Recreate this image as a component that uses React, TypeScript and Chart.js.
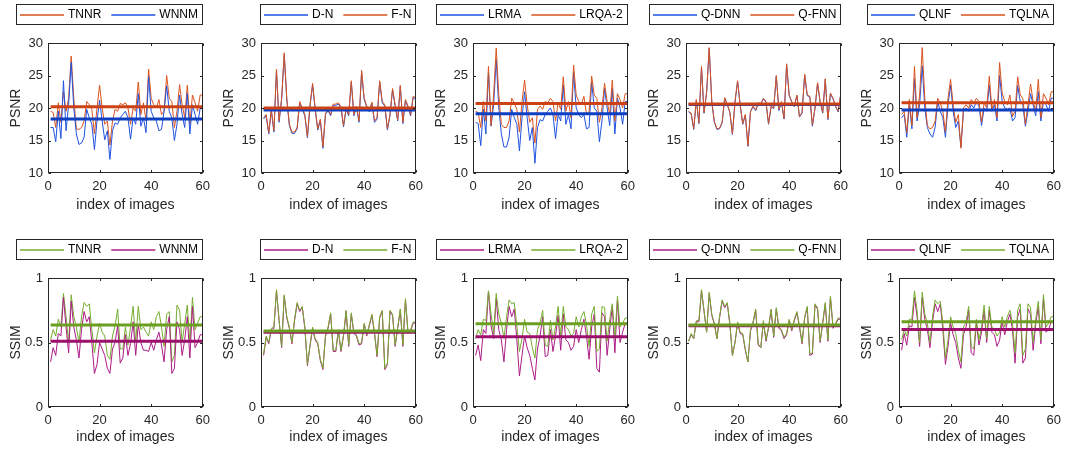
import React, { useEffect, useRef } from "react";
import { Chart, registerables } from "chart.js";

Chart.register(...registerables);

// ---------- data ----------
const imageIndex: number[] = Array.from({ length: 60 }, (_, i) => i + 1);
const xTickValues = [0, 20, 40, 60];
const psnrRange = [10, 30];
const ssimRange = [0, 1];

// PSNR series
const psnrTNNR = [19.5,19.3,17.0,20.8,17.8,22.5,19.5,21.5,28.0,21.5,16.8,16.7,17.0,18.0,21.0,20.5,19.8,16.0,20.0,23.5,20.0,17.5,18.0,14.3,18.0,19.8,19.5,20.7,20.5,20.8,20.0,17.5,20.0,19.5,24.0,19.0,20.8,18.0,26.0,21.5,20.5,20.0,21.3,19.0,19.5,25.0,21.5,21.0,17.0,19.5,23.6,20.5,18.5,23.5,17.5,22.0,20.8,19.5,22.0,22.0];
const psnrWNNM = [17.0,17.0,14.8,19.5,15.3,24.2,16.5,20.5,27.0,20.0,16.0,14.4,14.6,15.5,19.8,18.5,17.5,13.6,18.0,21.2,18.0,15.1,16.5,12.1,16.5,17.7,17.5,18.5,19.0,19.5,18.5,15.2,18.5,17.5,22.2,17.2,18.5,16.2,24.8,19.5,18.5,18.0,16.5,16.7,19.5,23.4,19.5,18.5,15.0,17.5,22.0,19.0,17.0,22.2,16.0,20.5,19.0,17.5,20.0,20.0];
const psnrDN = [18.3,18.8,16.0,19.6,16.3,25.7,17.8,21.3,28.2,21.3,17.3,16.1,16.1,16.8,20.8,19.8,18.8,15.4,20.3,23.5,19.8,16.6,18.1,13.8,19.0,19.6,18.8,20.4,20.4,20.6,20.0,17.1,19.8,18.8,24.0,18.8,20.1,17.8,25.5,21.3,20.1,19.4,20.7,17.8,18.3,24.0,20.8,20.3,16.6,18.8,22.8,20.3,18.0,23.3,17.6,21.1,20.1,18.8,21.6,21.4];
const psnrFN = [18.5,19.0,16.2,19.8,16.5,26.0,18.0,21.5,28.5,21.5,17.5,16.3,16.3,17.0,21.0,20.0,19.0,15.6,20.5,23.8,20.0,16.8,18.3,14.0,19.2,19.8,19.0,20.6,20.6,20.8,20.2,17.3,20.0,19.0,24.2,19.0,20.3,18.0,25.8,21.5,20.3,19.6,20.9,18.0,18.5,24.2,21.0,20.5,16.8,19.0,23.0,20.5,18.2,23.5,17.8,21.3,20.3,19.0,21.8,21.6];
const psnrLRMA = [17.8,17.6,14.2,19.8,16.0,25.5,17.2,20.5,27.5,20.0,16.0,14.0,14.0,15.5,19.8,18.5,17.5,13.4,18.5,22.5,18.5,15.0,17.0,11.5,17.0,18.2,18.0,19.0,19.5,20.0,19.0,15.3,19.0,18.0,23.5,17.5,19.0,16.8,25.5,20.0,19.0,18.5,19.0,16.8,17.0,24.0,20.0,19.5,14.8,18.0,23.0,20.0,17.3,23.0,16.0,21.5,20.0,17.5,21.0,21.0];
const psnrLRQA2 = [19.5,19.3,17.0,21.0,18.0,26.4,17.3,22.0,29.2,22.0,17.5,17.0,17.0,18.0,21.5,20.8,19.8,16.3,21.0,24.3,20.5,17.8,18.5,14.6,19.8,20.3,19.8,21.0,20.8,21.5,21.0,18.0,20.8,19.8,24.8,19.5,21.0,18.5,26.6,22.0,21.0,20.5,21.8,19.0,19.5,24.9,22.0,21.5,17.8,20.0,23.8,21.0,19.0,24.3,18.0,22.2,21.3,20.0,22.2,22.2];
const psnrQDNN = [19.4,19.1,16.7,21.2,17.6,26.3,19.2,22.4,29.2,20.9,17.8,16.7,16.8,17.7,21.5,20.5,19.3,15.9,20.9,24.1,20.4,17.5,18.9,14.1,19.4,20.2,19.6,20.7,20.6,21.4,20.9,17.5,20.2,19.9,24.9,19.6,20.9,18.3,26.7,21.9,20.9,20.2,21.9,18.6,19.2,25.1,21.9,21.7,17.2,19.9,23.8,20.9,19.2,24.4,18.2,22.2,21.4,20.2,19.4,22.1];
const psnrQFNN = [19.5,19.2,16.8,21.3,17.7,26.4,19.3,22.5,29.3,21.0,17.9,16.8,16.9,17.8,21.6,20.6,19.4,16.0,21.0,24.2,20.5,17.6,19.0,14.2,19.5,20.3,19.7,20.8,20.7,21.5,21.0,17.6,20.3,20.0,25.0,19.8,21.0,18.4,26.8,22.0,21.0,20.3,22.0,18.7,19.3,25.2,22.0,21.8,17.4,20.0,23.9,21.0,19.3,24.5,18.3,22.3,21.5,20.3,19.5,22.2];
const psnrQLNF = [18.5,19.0,15.5,20.5,16.8,24.5,18.0,20.5,26.5,20.0,17.0,16.0,15.5,17.0,21.0,19.5,18.5,15.5,20.5,23.5,19.5,17.0,18.0,14.0,19.5,20.0,19.5,20.5,20.0,21.0,20.3,17.3,20.0,19.5,23.5,19.5,20.5,18.0,25.0,21.0,20.0,19.8,20.0,18.0,18.5,23.5,21.0,20.5,17.2,19.5,22.2,20.5,18.8,22.5,18.0,21.0,20.5,19.5,21.5,21.5];
const psnrTQLNA = [19.0,19.5,16.2,21.3,17.3,26.4,18.5,22.0,29.3,21.5,17.3,16.8,17.0,18.0,21.5,20.8,19.5,16.3,21.5,24.4,20.5,17.8,19.0,13.8,20.0,20.5,20.0,21.3,20.8,21.5,21.0,17.8,20.8,20.0,24.9,19.8,21.3,18.5,27.0,22.3,21.0,20.5,22.0,18.7,19.5,24.8,22.0,21.5,17.5,20.5,23.7,21.0,19.5,24.4,18.5,22.2,21.5,20.5,22.5,22.5];

// PSNR means
const psnrMeanTNNR = 20.2, psnrMeanWNNM = 18.3;
const psnrMeanDN = 19.7, psnrMeanFN = 20.0;
const psnrMeanLRMA = 19.1, psnrMeanLRQA2 = 20.7;
const psnrMeanQDNN = 20.55, psnrMeanQFNN = 20.6;
const psnrMeanQLNF = 19.7, psnrMeanTQLNA = 20.8;

// SSIM series
const ssimTNNR = [0.52,0.60,0.55,0.68,0.62,0.88,0.70,0.50,0.87,0.70,0.62,0.50,0.70,0.81,0.78,0.80,0.60,0.42,0.55,0.65,0.58,0.55,0.40,0.37,0.55,0.63,0.76,0.45,0.45,0.62,0.48,0.62,0.78,0.50,0.78,0.60,0.62,0.58,0.55,0.66,0.60,0.70,0.74,0.62,0.47,0.72,0.74,0.35,0.40,0.79,0.75,0.50,0.65,0.79,0.50,0.85,0.60,0.65,0.70,0.70];
const ssimWNNM = [0.35,0.46,0.40,0.57,0.55,0.85,0.62,0.42,0.82,0.62,0.52,0.38,0.60,0.74,0.66,0.70,0.50,0.26,0.33,0.50,0.45,0.40,0.30,0.26,0.45,0.50,0.63,0.34,0.38,0.56,0.40,0.49,0.66,0.40,0.64,0.50,0.44,0.44,0.43,0.50,0.44,0.52,0.58,0.48,0.35,0.60,0.70,0.26,0.30,0.66,0.60,0.40,0.52,0.70,0.38,0.78,0.46,0.50,0.56,0.56];
const ssimDN = [0.40,0.54,0.49,0.60,0.61,0.90,0.67,0.46,0.86,0.69,0.61,0.49,0.67,0.80,0.74,0.77,0.61,0.32,0.47,0.61,0.52,0.49,0.36,0.29,0.55,0.61,0.72,0.43,0.43,0.59,0.43,0.55,0.74,0.47,0.72,0.57,0.55,0.48,0.49,0.64,0.55,0.63,0.71,0.57,0.39,0.69,0.74,0.29,0.33,0.74,0.71,0.47,0.61,0.75,0.47,0.83,0.57,0.59,0.65,0.65];
const ssimFN = [0.41,0.55,0.50,0.61,0.62,0.91,0.68,0.47,0.87,0.70,0.62,0.50,0.68,0.81,0.75,0.78,0.62,0.33,0.48,0.62,0.53,0.50,0.37,0.30,0.56,0.62,0.73,0.44,0.44,0.60,0.44,0.56,0.75,0.48,0.73,0.58,0.56,0.49,0.50,0.65,0.56,0.64,0.72,0.58,0.40,0.70,0.75,0.30,0.34,0.75,0.72,0.48,0.62,0.76,0.48,0.84,0.58,0.60,0.66,0.66];
const ssimLRMA = [0.40,0.48,0.36,0.60,0.57,0.90,0.63,0.53,0.84,0.60,0.52,0.35,0.60,0.78,0.70,0.76,0.52,0.24,0.40,0.55,0.46,0.40,0.30,0.21,0.45,0.55,0.70,0.39,0.40,0.60,0.43,0.55,0.71,0.44,0.72,0.52,0.50,0.44,0.47,0.60,0.50,0.60,0.68,0.55,0.37,0.62,0.72,0.30,0.27,0.73,0.70,0.40,0.60,0.78,0.42,0.83,0.50,0.58,0.65,0.65];
const ssimLRQA2 = [0.53,0.60,0.56,0.68,0.67,0.90,0.72,0.57,0.88,0.72,0.65,0.53,0.70,0.83,0.80,0.81,0.63,0.43,0.53,0.68,0.58,0.57,0.46,0.38,0.60,0.65,0.75,0.48,0.47,0.67,0.52,0.62,0.78,0.55,0.78,0.62,0.60,0.55,0.57,0.70,0.62,0.70,0.74,0.64,0.47,0.72,0.78,0.43,0.45,0.78,0.77,0.51,0.68,0.80,0.53,0.86,0.62,0.65,0.69,0.69];
const ssimQDNN = [0.51,0.56,0.53,0.66,0.66,0.90,0.74,0.58,0.88,0.71,0.64,0.53,0.69,0.82,0.77,0.80,0.64,0.40,0.50,0.65,0.57,0.56,0.44,0.35,0.59,0.65,0.75,0.48,0.46,0.66,0.51,0.61,0.75,0.54,0.76,0.61,0.59,0.53,0.56,0.67,0.59,0.67,0.73,0.62,0.49,0.69,0.77,0.40,0.41,0.79,0.76,0.50,0.65,0.80,0.51,0.85,0.61,0.64,0.68,0.68];
const ssimQFNN = [0.51,0.57,0.53,0.67,0.67,0.91,0.75,0.58,0.89,0.72,0.65,0.53,0.70,0.83,0.78,0.81,0.65,0.40,0.50,0.66,0.58,0.57,0.45,0.35,0.60,0.66,0.76,0.49,0.46,0.67,0.52,0.62,0.76,0.55,0.77,0.62,0.60,0.54,0.57,0.68,0.60,0.68,0.74,0.63,0.50,0.70,0.78,0.41,0.42,0.80,0.77,0.51,0.66,0.81,0.52,0.86,0.62,0.65,0.69,0.69];
const ssimQLNF = [0.44,0.57,0.48,0.63,0.62,0.85,0.70,0.47,0.85,0.68,0.60,0.46,0.66,0.80,0.74,0.80,0.60,0.33,0.47,0.65,0.56,0.50,0.38,0.30,0.56,0.62,0.75,0.42,0.40,0.65,0.48,0.58,0.75,0.50,0.75,0.58,0.56,0.47,0.52,0.66,0.56,0.66,0.72,0.60,0.34,0.70,0.76,0.34,0.38,0.76,0.72,0.44,0.64,0.78,0.49,0.84,0.58,0.60,0.66,0.66];
const ssimTQLNA = [0.52,0.60,0.55,0.68,0.68,0.90,0.75,0.50,0.89,0.72,0.65,0.50,0.70,0.83,0.80,0.82,0.65,0.38,0.52,0.70,0.62,0.57,0.44,0.35,0.62,0.66,0.78,0.47,0.45,0.68,0.52,0.62,0.79,0.53,0.78,0.62,0.60,0.55,0.58,0.70,0.62,0.70,0.75,0.65,0.42,0.75,0.80,0.40,0.45,0.80,0.77,0.50,0.68,0.82,0.52,0.87,0.62,0.65,0.70,0.70];

// SSIM means
const ssimMeanTNNR = 0.635, ssimMeanWNNM = 0.51;
const ssimMeanDN = 0.58, ssimMeanFN = 0.59;
const ssimMeanLRMA = 0.545, ssimMeanLRQA2 = 0.645;
const ssimMeanQDNN = 0.63, ssimMeanQFNN = 0.635;
const ssimMeanQLNF = 0.60, ssimMeanTQLNA = 0.66;

// ---------- styles ----------
const RED = "#D9531E", RED_M = "#CC4214";
const BLUE = "#1F52E0", BLUE_M = "#0D3FC2";
const GREEN = "#77AC30", GREEN_M = "#6C9E22";
const MAG = "#AC1C86", MAG_M = "#9C0F6C";
const FONT = '"Liberation Sans", Arial, Helvetica, sans-serif';
const AX = "#262626";

type Series = { label: string; values: number[]; mean: number; color: string; meanColor: string };
type PanelSpec = { metric: "PSNR" | "SSIM"; row: number; col: number; first: Series; second: Series };

const s = (label: string, values: number[], mean: number, color: string, meanColor: string): Series => ({ label, values, mean, color, meanColor });

const panels: PanelSpec[] = [
  { metric: "PSNR", row: 0, col: 0, first: s("TNNR", psnrTNNR, psnrMeanTNNR, RED, RED_M), second: s("WNNM", psnrWNNM, psnrMeanWNNM, BLUE, BLUE_M) },
  { metric: "PSNR", row: 0, col: 1, first: s("D-N", psnrDN, psnrMeanDN, BLUE, BLUE_M), second: s("F-N", psnrFN, psnrMeanFN, RED, RED_M) },
  { metric: "PSNR", row: 0, col: 2, first: s("LRMA", psnrLRMA, psnrMeanLRMA, BLUE, BLUE_M), second: s("LRQA-2", psnrLRQA2, psnrMeanLRQA2, RED, RED_M) },
  { metric: "PSNR", row: 0, col: 3, first: s("Q-DNN", psnrQDNN, psnrMeanQDNN, BLUE, BLUE_M), second: s("Q-FNN", psnrQFNN, psnrMeanQFNN, RED, RED_M) },
  { metric: "PSNR", row: 0, col: 4, first: s("QLNF", psnrQLNF, psnrMeanQLNF, BLUE, BLUE_M), second: s("TQLNA", psnrTQLNA, psnrMeanTQLNA, RED, RED_M) },
  { metric: "SSIM", row: 1, col: 0, first: s("TNNR", ssimTNNR, ssimMeanTNNR, GREEN, GREEN_M), second: s("WNNM", ssimWNNM, ssimMeanWNNM, MAG, MAG_M) },
  { metric: "SSIM", row: 1, col: 1, first: s("D-N", ssimDN, ssimMeanDN, MAG, MAG_M), second: s("F-N", ssimFN, ssimMeanFN, GREEN, GREEN_M) },
  { metric: "SSIM", row: 1, col: 2, first: s("LRMA", ssimLRMA, ssimMeanLRMA, MAG, MAG_M), second: s("LRQA-2", ssimLRQA2, ssimMeanLRQA2, GREEN, GREEN_M) },
  { metric: "SSIM", row: 1, col: 3, first: s("Q-DNN", ssimQDNN, ssimMeanQDNN, MAG, MAG_M), second: s("Q-FNN", ssimQFNN, ssimMeanQFNN, GREEN, GREEN_M) },
  { metric: "SSIM", row: 1, col: 4, first: s("QLNF", ssimQLNF, ssimMeanQLNF, MAG, MAG_M), second: s("TQLNA", ssimTQLNA, ssimMeanTQLNA, GREEN, GREEN_M) },
];

// ---------- layout ----------
const CANVAS_LEFT = [0, 213, 425, 638, 851];
const CANVAS_TOP = [0, 235];
const CANVAS_W = 216;
const CANVAS_H = 218;
const PAD_TOP = 43;
const XAXIS_H = [45, 46];
const XTITLE_PB = [4, 7];

// ---------- plugins ----------
const framePlugin = {
  id: "frameBox",
  afterDatasetsDraw(chart: any) {
    const { ctx, chartArea } = chart;
    const xs = chart.scales.x, ys = chart.scales.y;
    const l = Math.round(chartArea.left) + 0.5;
    const r = Math.round(chartArea.right) - 0.5;
    const t = Math.round(chartArea.top) + 0.5;
    const b = Math.round(chartArea.bottom) - 0.5;
    ctx.save();
    ctx.strokeStyle = AX;
    ctx.lineWidth = 1;
    ctx.strokeRect(l, t, r - l, b - t);
    const tl = 2.5;
    ctx.beginPath();
    xs.ticks.forEach((tk: any) => {
      const px = Math.round(xs.getPixelForValue(tk.value)) + 0.5;
      ctx.moveTo(px, b); ctx.lineTo(px, b - tl);
      ctx.moveTo(px, t); ctx.lineTo(px, t + tl);
    });
    ys.ticks.forEach((tk: any) => {
      const py = Math.round(ys.getPixelForValue(tk.value)) + 0.5;
      ctx.moveTo(l, py); ctx.lineTo(l + tl, py);
      ctx.moveTo(r, py); ctx.lineTo(r - tl, py);
    });
    ctx.stroke();
    ctx.restore();
  },
};

const boxLegendPlugin = {
  id: "boxLegend",
  afterDraw(chart: any, _args: any, opts: any) {
    const { ctx, chartArea } = chart;
    const items: { label: string; color: string }[] = (opts.indices || []).map((i: number) => {
      const d = chart.data.datasets[i];
      return { label: String(d.label), color: String(d.legendColor || d.borderColor) };
    });
    if (!items.length) return;
    ctx.save();
    ctx.font = `12px ${FONT}`;
    const lineLen = 44, gap = 4, itemGap = 10, padL = 4, padR = 5, h = 20;
    const widths = items.map((d) => ctx.measureText(d.label).width);
    let total = padL + padR + itemGap * (items.length - 1);
    items.forEach((_d, k) => { total += lineLen + gap + widths[k]; });
    total = Math.round(total);
    const right = Math.round(chartArea.right);
    const left = right - total;
    const top = Math.round(chartArea.top + opts.dy);
    ctx.fillStyle = "#ffffff";
    ctx.fillRect(left, top, total, h);
    ctx.strokeStyle = AX;
    ctx.lineWidth = 1;
    ctx.strokeRect(left + 0.5, top + 0.5, total - 1, h);
    let x = left + padL;
    const cy = top + h / 2 + 0.5;
    items.forEach((d, k) => {
      ctx.save();
      ctx.strokeStyle = d.color;
      ctx.lineWidth = 1.3;
      ctx.beginPath();
      ctx.moveTo(x, Math.round(cy));
      ctx.lineTo(x + lineLen, Math.round(cy));
      ctx.stroke();
      ctx.restore();
      x += lineLen + gap;
      ctx.fillStyle = "#000000";
      ctx.textBaseline = "middle";
      ctx.textAlign = "left";
      ctx.fillText(d.label, x, cy);
      x += widths[k] + itemGap;
    });
    ctx.restore();
  },
};

function Panel({ spec }: { spec: PanelSpec }) {
  const ref = useRef<HTMLCanvasElement | null>(null);
  useEffect(() => {
    if (!ref.current) return;
    const isP = spec.metric === "PSNR";
    const range = isP ? psnrRange : ssimRange;
    const pts = (vals: number[]) => imageIndex.map((x, i) => ({ x, y: vals[i] }));
    const meanPts = (m: number) => [
      { x: imageIndex[0], y: m },
      { x: imageIndex[imageIndex.length - 1], y: m },
    ];
    const thin = (ser: Series) => ({
      label: ser.label,
      legendColor: ser.color,
      data: pts(ser.values),
      borderColor: ser.color,
      backgroundColor: ser.color,
      borderWidth: 1,
      pointRadius: 0,
      tension: 0,
      fill: false,
    });
    const mean = (ser: Series) => ({
      label: ser.label + " mean",
      data: meanPts(ser.mean),
      borderColor: ser.meanColor,
      backgroundColor: ser.meanColor,
      borderWidth: 3,
      pointRadius: 0,
      tension: 0,
      fill: false,
    });
    // dataset 0 is drawn on top in Chart.js
    const datasets = [mean(spec.second), mean(spec.first), thin(spec.second), thin(spec.first)];
    const row = spec.row;
    const chart = new Chart(ref.current, {
      type: "line",
      data: { datasets },
      options: {
        animation: false,
        responsive: false,
        devicePixelRatio: 1,
        events: [],
        layout: { padding: { left: 0, right: 8, top: PAD_TOP, bottom: 0 } },
        plugins: {
          legend: { display: false },
          tooltip: { enabled: false },
          boxLegend: { indices: [3, 2], dy: -39 },
        } as any,
        scales: {
          x: {
            type: "linear",
            min: xTickValues[0],
            max: xTickValues[xTickValues.length - 1],
            afterBuildTicks: (sc: any) => { sc.ticks = xTickValues.map((v) => ({ value: v })); },
            grid: { display: false, drawTicks: false },
            border: { display: false },
            ticks: { color: AX, font: { family: FONT, size: 13 }, padding: 6, maxRotation: 0 },
            title: {
              display: true,
              text: "index of images",
              color: AX,
              font: { family: FONT, size: 14 },
              padding: { top: 0, bottom: XTITLE_PB[row] },
            },
            afterFit: (sc: any) => { sc.height = XAXIS_H[row]; },
          },
          y: {
            type: "linear",
            min: range[0],
            max: range[1],
            ticks: {
              color: AX,
              font: { family: FONT, size: 13 },
              padding: 5,
              stepSize: isP ? 5 : 0.5,
              callback: (v: any) => String(v),
            },
            grid: { display: false, drawTicks: false },
            border: { display: false },
            title: {
              display: true,
              text: spec.metric,
              color: AX,
              font: { family: FONT, size: 14 },
              padding: { top: 8, bottom: 0 },
            },
            afterFit: (sc: any) => { sc.width = 48; },
          },
        },
      } as any,
      plugins: [framePlugin, boxLegendPlugin],
    });
    return () => chart.destroy();
  }, [spec]);
  return (
    <canvas
      ref={ref}
      width={CANVAS_W}
      height={CANVAS_H}
      style={{
        position: "absolute",
        left: CANVAS_LEFT[spec.col],
        top: CANVAS_TOP[spec.row],
        width: CANVAS_W,
        height: CANVAS_H,
      }}
    />
  );
}

export default function App() {
  return (
    <div style={{ position: "absolute", left: 0, top: 0, width: 1070, height: 453, background: "#ffffff", overflow: "hidden" }}>
      {panels.map((p, i) => (
        <Panel key={i} spec={p} />
      ))}
    </div>
  );
}
